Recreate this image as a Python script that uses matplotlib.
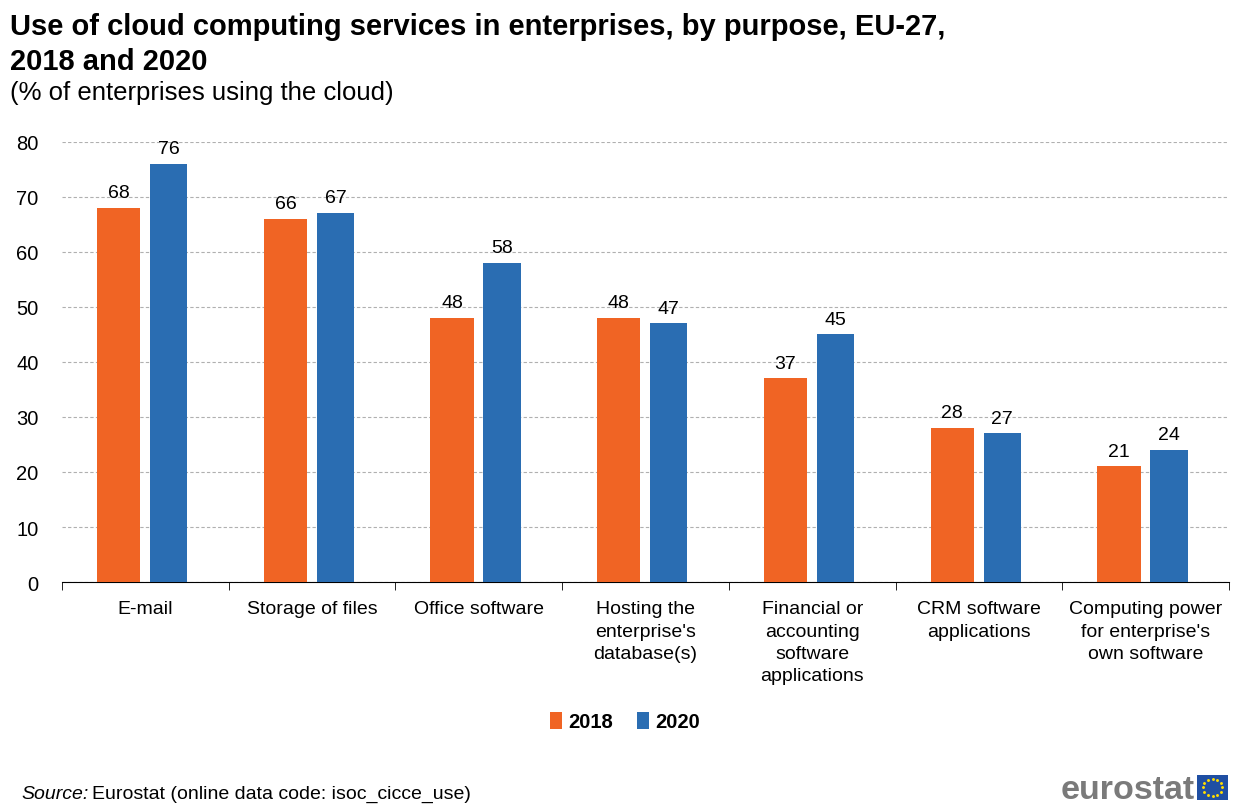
import matplotlib.pyplot as plt
import numpy as np
from matplotlib.patches import Rectangle

plt.rcParams['font.family'] = ['Liberation Sans', 'DejaVu Sans']

categories = ["E-mail", "Storage of files", "Office software",
              "Hosting the\nenterprise's\ndatabase(s)",
              "Financial or\naccounting\nsoftware\napplications",
              "CRM software\napplications",
              "Computing power\nfor enterprise's\nown software"]
values_2018 = [68, 66, 48, 48, 37, 28, 21]
values_2020 = [76, 67, 58, 47, 45, 27, 24]

orange = '#F06424'
blue = '#2A6DB2'

fig = plt.figure(figsize=(12.5, 8.12), dpi=100)
ax = fig.add_axes([0.0496, 0.282, 0.9336, 0.542])

x = np.arange(len(categories))
width = 0.26
r1 = ax.bar(x - 0.16, values_2018, width, color=orange, label='2018', zorder=3)
r2 = ax.bar(x + 0.14, values_2020, width * 0.86, color=blue, label='2020', zorder=3)
ax.bar_label(r1, padding=5, fontsize=14)
ax.bar_label(r2, padding=5, fontsize=14)

ax.set_xlim(-0.5, len(categories) - 0.5)
ax.set_ylim(0, 80)
ax.set_yticks(range(0, 81, 10))
ax.yaxis.grid(True, linestyle=(0, (3, 2)), color='#b0b0b0', linewidth=0.8, zorder=0)
for s in ['top', 'right', 'left']:
    ax.spines[s].set_visible(False)
ax.spines['bottom'].set_color('black')
ax.tick_params(axis='y', length=0, labelsize=14.5, pad=17)
ax.set_xticks(x, categories, fontsize=14, linespacing=1.42, va='top')
ax.tick_params(axis='x', length=0, pad=13)
ax.set_xticks(np.arange(-0.5, len(categories)), minor=True)
ax.tick_params(axis='x', which='minor', length=6, color='black', direction='out')

fig.text(0.008, 0.957, "Use of cloud computing services in enterprises, by purpose, EU-27,",
         fontsize=21, fontweight='bold', va='baseline')
fig.text(0.008, 0.914, "2018 and 2020", fontsize=21, fontweight='bold', va='baseline')
fig.text(0.008, 0.877, "(% of enterprises using the cloud)", fontsize=18.5, va='baseline')

leg = fig.legend(loc='center', bbox_to_anchor=(0.5, 0.11), ncols=2, frameon=False,
                 handlelength=0.6, handleheight=0.9, handletextpad=0.3, columnspacing=1.2,
                 prop={'size': 14.5, 'weight': 'bold'})

fig.text(0.017, 0.016, "Source:", fontsize=14, style='italic', va='baseline')
fig.text(0.074, 0.016, "Eurostat (online data code: isoc_cicce_use)", fontsize=14, va='baseline')

# eurostat logo
fig.text(0.956, 0.016, "eurostat", fontsize=24.5, fontweight='bold', color='#7a7a7a',
         ha='right', va='baseline')
lax = fig.add_axes([0.9576, 0.0136, 0.0248, 0.031])
lax.add_patch(Rectangle((0, 0), 1, 1, color='#1f4fa3'))
ang = np.linspace(0, 2 * np.pi, 12, endpoint=False)
lax.scatter(0.5 + 0.3 * np.cos(ang), 0.5 + 0.33 * np.sin(ang), s=1.2, color='#ffdd00', marker='o')
lax.set_xlim(0, 1)
lax.set_ylim(0, 1)
lax.axis('off')

fig.savefig('out.png', dpi=100)
